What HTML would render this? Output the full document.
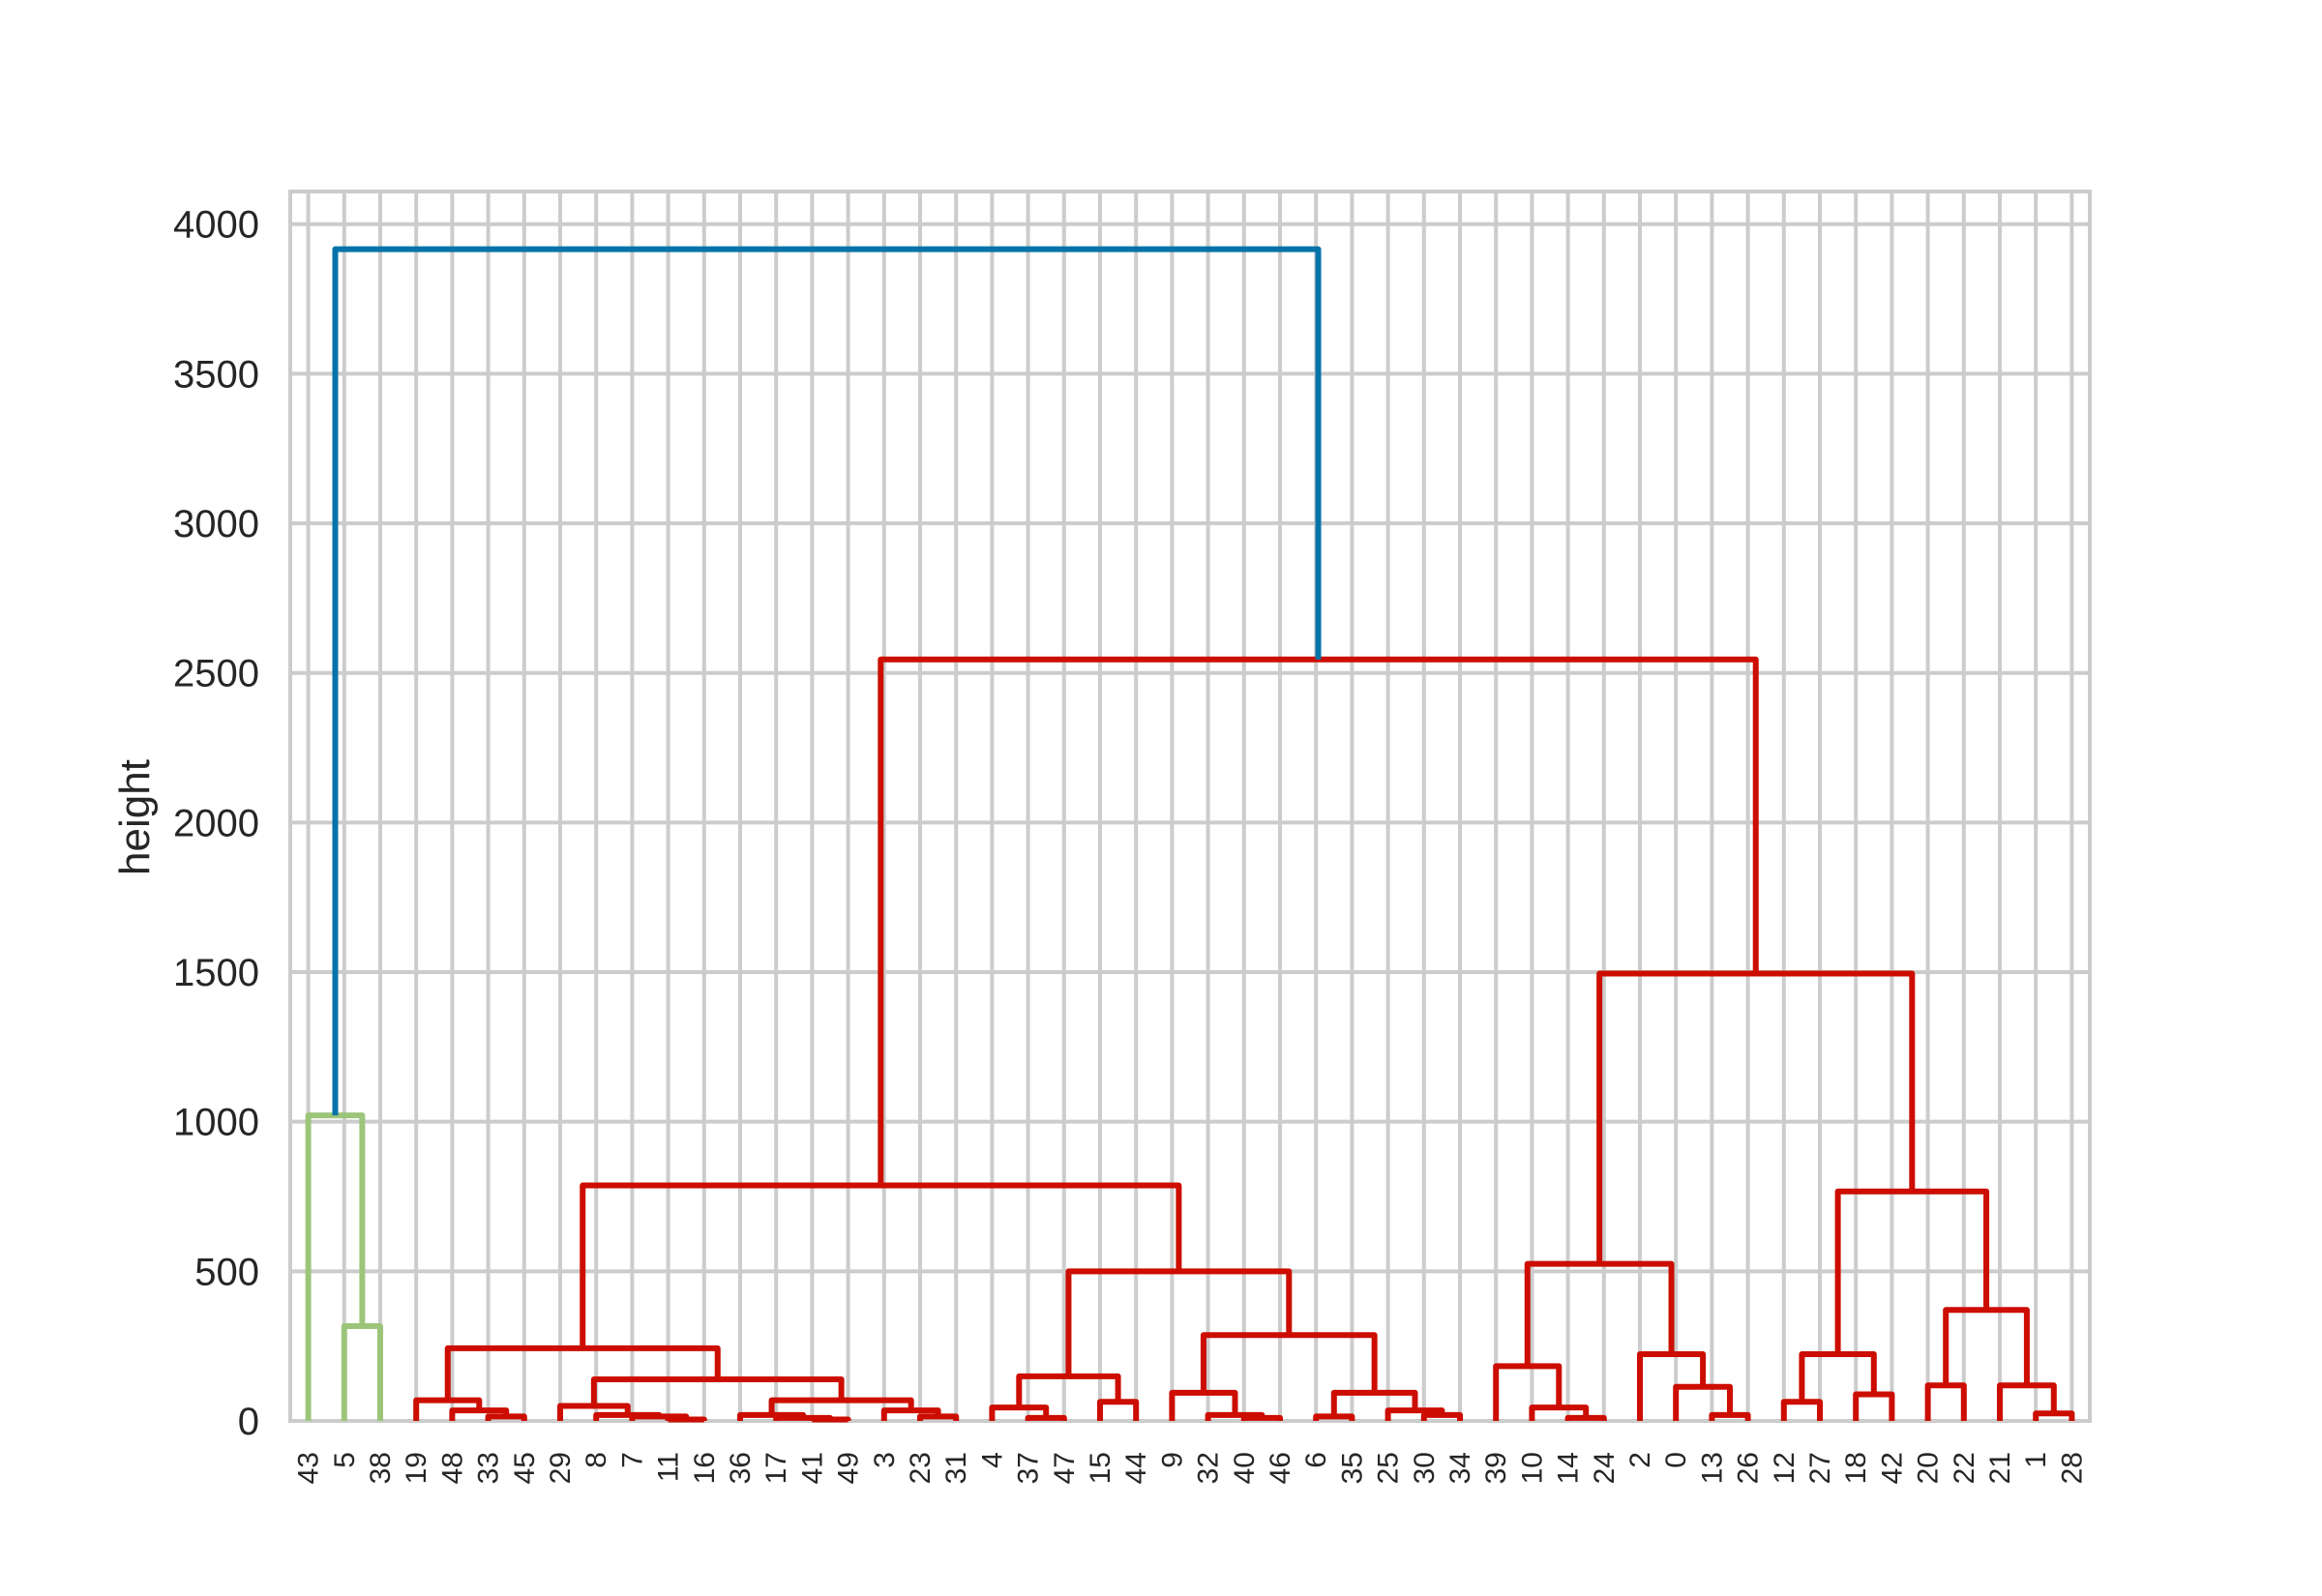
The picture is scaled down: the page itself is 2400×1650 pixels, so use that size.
<!DOCTYPE html>
<html><head><meta charset="utf-8">
<style>
html,body{margin:0;padding:0;background:#fff;}
svg{display:block;font-family:"Liberation Sans",Arial,sans-serif;}
</style></head>
<body>
<svg id="chart" width="2400" height="1650" viewBox="0 0 2400 1650">
  <g id="grid"></g>
  <g id="links"></g>
  <g id="yticks"></g>
  <g id="xticks"></g>
  <text x="0" y="0" transform="translate(154,845) rotate(-90)" text-anchor="middle" font-size="44" fill="#262626">height</text>
</svg>
<script>
const leafOrder = ["43","5","38","19","48","33","45","29","8","7","11","16","36","17","41","49","3","23","31","4","37","47","15","44","9","32","40","46","6","35","25","30","34","39","10","14","24","2","0","13","26","12","27","18","42","20","22","21","1","28"];
const mergeLeft   = ["5","43","33","48","19","11","7","8","29","41","17","36","23","3","n11","n8","n4","37","4","15","n18","40","32","9","6","30","25","n24","n23","n20","n16","14","10","39","13","0","2","n33","12","18","n38","20","1","21","n41","n40","n37","n30","n1"];
const mergeRight  = ["38","n0","45","n2","n3","16","n5","n6","n7","49","n9","n10","31","n12","n13","n14","n15","47","n17","44","n19","46","n21","n22","35","34","n25","n26","n27","n28","n29","24","n31","n32","26","n34","n35","n36","27","42","n39","22","28","n42","n43","n44","n45","n46","n47"];
const mergeHeight = [317,1021,15,35,69,5,15,20,50,5,10,20,15,35,69,139,243,10,45,64,149,10,20,94,15,20,35,94,287,500,787,10,45,183,20,114,223,525,64,89,223,119,25,119,371,767,1495,2545,3916];
const mergeColor  = ["g","g","r","r","r","r","r","r","r","r","r","r","r","r","r","r","r","r","r","r","r","r","r","r","r","r","r","r","r","r","r","r","r","r","r","r","r","r","r","r","r","r","r","r","r","r","r","r","b"];
const yTicks = [0,500,1000,1500,2000,2500,3000,3500,4000];

const NS="http://www.w3.org/2000/svg";
const L=300, R=2160, T=198, B=1469;
const colors={g:"#9dc57a", r:"#cc0d00", b:"#0573a8"};
function xScale(i){ return L + (R-L)/leafOrder.length*(i+0.5); }
function yScale(v){ return B - v*(B-231.7)/4000; }
function mk(tag, attrs, parent){ const e=document.createElementNS(NS,tag); for(const k in attrs) e.setAttribute(k,attrs[k]); parent.appendChild(e); return e; }

const grid=document.getElementById('grid');
yTicks.forEach(v=>{
  const ln=mk('line',{x1:L,x2:R,y1:yScale(v),y2:yScale(v),stroke:"#cccccc","stroke-width":4},grid);
  
  
});
leafOrder.forEach((lab,i)=>{
  const ln=mk('line',{x1:xScale(i),x2:xScale(i),y1:T,y2:B,stroke:"#cccccc","stroke-width":4},grid);
  
  
});
const frame=mk('rect',{x:L,y:T,width:R-L,height:B-T,fill:"none",stroke:"#cccccc","stroke-width":4},grid);



const pos={};
leafOrder.forEach((lab,i)=>{ pos[lab]={x:xScale(i),h:0}; });
const links=document.getElementById('links');
for(let k=0;k<mergeLeft.length;k++){
  const a=pos[mergeLeft[k]], b=pos[mergeRight[k]], h=mergeHeight[k];
  const yh=yScale(h);
  const p=mk('path',{d:`M${a.x},${yScale(a.h)} L${a.x},${yh} L${b.x},${yh} L${b.x},${yScale(b.h)}`,fill:"none",stroke:colors[mergeColor[k]],"stroke-width":6,"stroke-linejoin":"round","stroke-linecap":"butt"},links);
  
  
  pos['n'+k]={x:(a.x+b.x)/2,h:h};
}

const yt=document.getElementById('yticks');
yTicks.forEach(v=>{
  const t=mk('text',{x:268,y:yScale(v)+14,"text-anchor":"end","font-size":40,fill:"#262626"},yt);
  t.textContent=v;
  
  
});
const xt=document.getElementById('xticks');
leafOrder.forEach((lab,i)=>{
  const x=xScale(i)+10, y=1501;
  const t=mk('text',{x:0,y:0,transform:`translate(${x},${y}) rotate(-90)`,"text-anchor":"end","font-size":30,fill:"#262626"},xt);
  t.textContent=lab;
  
  
});
</script>
</body></html>
